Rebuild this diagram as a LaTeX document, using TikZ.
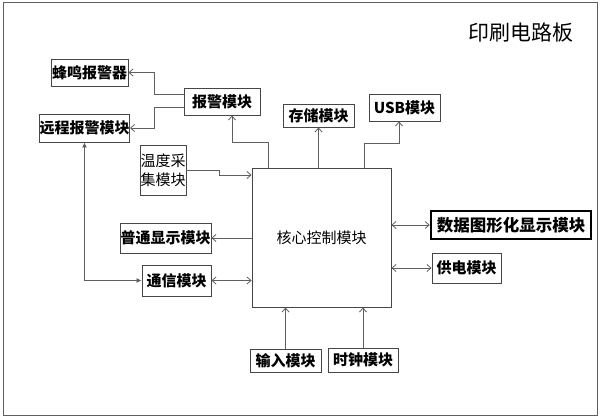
\documentclass[tikz,border=0pt]{standalone}
\usepackage{fontspec}
\setmainfont{Noto Sans CJK SC}
\usepackage{tikz}
\usetikzlibrary{arrows.meta, calc, positioning}
\definecolor{linegray}{RGB}{95,95,95}
\definecolor{boxgray}{RGB}{70,70,70}

\begin{document}
\begin{tikzpicture}[x=1pt, y=1pt, >={Straight Barb[length=4pt,width=7pt]},
    module/.style={draw=boxgray, line width=0.9pt, inner sep=0pt, font=\fontsize{15}{17}\selectfont\bfseries},
    link/.style={draw=linegray, line width=0.8pt}]
    % Board outline
    \useasboundingbox (0,0) rectangle (600,418);
    \draw[linegray, line width=1pt] (3,3) rectangle (597,415);
    \node[font=\fontsize{21}{24}\selectfont] (title) at (521,385) {印刷电路板};

    % Modules
    \node[module, minimum width=139pt, minimum height=139pt, font=\fontsize{15}{17}\selectfont] (core) at (321.5,180.5) {核心控制模块};
    \node[module, minimum width=77pt, minimum height=27pt] (buzzer) at (89.5,345.5) {蜂鸣报警器};
    \node[module, minimum width=76pt, minimum height=27pt] (alarm) at (222,316.5) {报警模块};
    \node[module, minimum width=87pt, minimum height=28pt] (remote) at (84.5,290) {远程报警模块};
    \node[module, minimum width=46pt, minimum height=50pt, align=center, font=\fontsize{15}{19}\selectfont] (temp) at (163,248) {温度采\\集模块};
    \node[module, minimum width=71pt, minimum height=23pt] (store) at (318.5,302.5) {存储模块};
    \node[module, minimum width=71pt, minimum height=27pt] (usb) at (404.5,310.5) {USB模块};
    \node[module, draw=black, line width=2.6pt, minimum width=160pt, minimum height=28pt, font=\fontsize{16.5}{18}\selectfont\bfseries] (graph) at (511,193) {数据图形化显示模块};
    \node[module, minimum width=69pt, minimum height=30pt] (power) at (466.5,150) {供电模块};
    \node[module, minimum width=91pt, minimum height=30pt] (disp) at (165.5,180) {普通显示模块};
    \node[module, minimum width=69pt, minimum height=31pt] (comm) at (176.5,137.5) {通信模块};
    \node[module, minimum width=71pt, minimum height=23pt] (input) at (285.5,57.5) {输入模块};
    \node[module, minimum width=70pt, minimum height=24pt] (clock) at (363,58) {时钟模块};

    % Alarm outputs
    \draw[link, ->] ([yshift=7.5pt]alarm.west) -- ++(-29,0) |- (buzzer.east);
    \draw[link, ->] ([yshift=-5.5pt]alarm.west) -- ++(-29,0) |- (remote.east);

    % Core outputs upward
    \draw[link, ->] ([xshift=-53.5pt]core.north) -- ++(0,25) -| ([xshift=10pt]alarm.south);
    \draw[link, ->] (core.north -| store.south) -- (store.south);
    \draw[link, ->] ([xshift=42.5pt]core.north) -- ++(0,24) -| ([xshift=-5.5pt]usb.south);

    % Left side
    \draw[link, ->] (temp.east) -- ++(33,0) |- ([yshift=62.5pt]core.west);
    \draw[link, ->] (core.west |- disp.east) -- (disp.east);
    \draw[link, <->] (comm.east) -- (core.west |- comm.east);
    \draw[link, {Latex[length=5pt,width=5pt]}-{Latex[length=5pt,width=5pt]}] (remote.south) |- (comm.west);

    % Right side
    \draw[link, <->] (core.east |- graph.west) -- (graph.west);
    \draw[link, <->] (core.east |- power.west) -- (power.west);

    % Inputs from below
    \draw[link, ->] (input.north) -- (input.north |- core.south);
    \draw[link, ->] (clock.north) -- (clock.north |- core.south);
\end{tikzpicture}
\end{document}
